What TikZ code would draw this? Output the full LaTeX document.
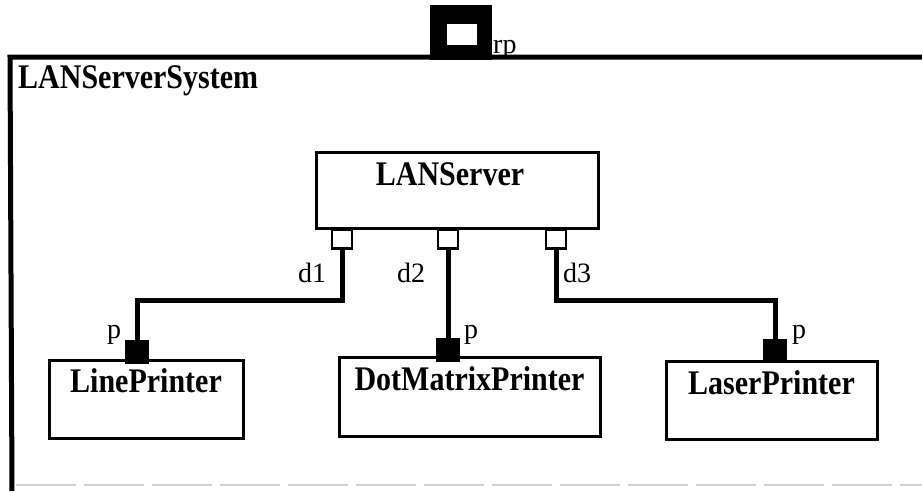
\documentclass[tikz,border=0pt]{standalone}
\usepackage{fontspec}
\setmainfont{Liberation Serif}
\usetikzlibrary{calc}
\tikzset{
	frame/.style={line width=5pt},
	classbox/.style={draw, line width=3pt, inner sep=0pt},
	classname/.style={font=\bfseries\fontsize{30}{30}\selectfont, inner sep=0pt, anchor=base},
	portname/.style={font=\fontsize{28}{28}\selectfont, inner sep=0pt, anchor=base west},
	inport/.style={draw, fill=white, line width=2.5pt, minimum width=20pt, minimum height=19pt, inner sep=0pt},
	outport/.style={fill=black, minimum size=24pt, inner sep=0pt},
	wire/.style={line width=5pt},
}
\newcommand{\tallname}[1]{\scalebox{1}[1.15]{#1}}

\begin{document}
\begin{tikzpicture}[x=1pt, y=-1pt]
		\useasboundingbox (0,0) rectangle (922,491);
		% enclosing system
		\draw[frame] (922,57) -- (10,57) -- (12,491);
		\draw[gray!35, line width=1.2pt, dash pattern=on 60pt off 8pt] (16,485) -- (922,485);
		\node[fill=black, minimum width=62pt, minimum height=55pt, inner sep=0pt] (rp) at (461,32) {};
		\node[fill=white, minimum width=30pt, minimum height=21pt, inner sep=0pt] (rpin) at (462,34) {};
		\node[portname] at (493,53) {rp};
		\node[classname, anchor=base west] at (18,88) {\tallname{LANServerSystem}};
		% parts
		\node[classbox, minimum width=282pt, minimum height=76pt] (srv) at (457,190) {};
		\node[classname] at ($(srv.north)+(-7,35)$) {\tallname{LANServer}};
		\node[classbox, minimum width=194pt, minimum height=78pt] (lp) at (146,399) {};
		\node[classname] at ($(lp.north)+(0,34)$) {\tallname{LinePrinter}};
		\node[classbox, minimum width=261pt, minimum height=79pt] (dmp) at (469.5,396.5) {};
		\node[classname] at ($(dmp.north)+(0,35)$) {\tallname{DotMatrixPrinter}};
		\node[classbox, minimum width=211pt, minimum height=78pt] (lsp) at (771.5,400) {};
		\node[classname] at ($(lsp.north)+(0,35)$) {\tallname{LaserPrinter}};
		% ports
		\node[inport] (d1) at (342,239) {};
		\node[inport] (d2) at (448,239) {};
		\node[inport] (d3) at (556,239) {};
		\node[outport] (p1) at (137,352) {};
		\node[outport] (p2) at (448,350) {};
		\node[outport] (p3) at (775,351) {};
		% connectors
		\coordinate (bus) at (0,300);
		\draw[wire] (d1.south) -- (d1.south |- bus) -| (p1.north);
		\draw[wire] (d2.south) -- (p2.north);
		\draw[wire] (d3.south) -- (d3.south |- bus) -| (p3.north);
		\node[portname] at (298,282) {d1};
		\node[portname] at (397,282) {d2};
		\node[portname] at (563,282) {d3};
		\node[portname] at (107,338) {p};
		\node[portname] at (464,338) {p};
		\node[portname] at (792,338) {p};
	\end{tikzpicture}
\end{document}
